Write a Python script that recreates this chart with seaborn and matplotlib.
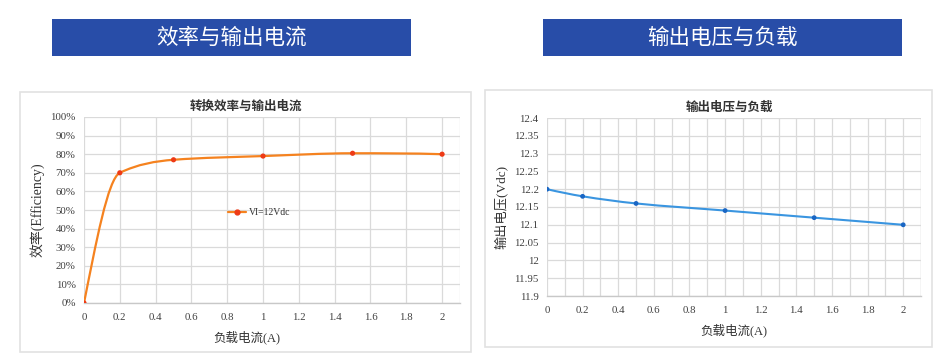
import numpy as np
import pandas as pd
import matplotlib
matplotlib.use("Agg")
import matplotlib.pyplot as plt
import seaborn as sns
from matplotlib.path import Path
from matplotlib.patches import PathPatch, Rectangle
from matplotlib.lines import Line2D
from matplotlib.ticker import MultipleLocator

# ---------------- data ----------------
load_current = [0, 0.2, 0.5, 1.0, 1.5, 2.0]
efficiency = [0, 70, 77, 79, 80.5, 80]
voltage = [12.2, 12.18, 12.16, 12.14, 12.12, 12.10]

banner_titles = ["效率与输出电流", "输出电压与负载"]
chart_titles = ["转换效率与输出电流", "输出电压与负载"]
xlabel = "负载电流(A)"
ylabels = ["效率(Efficiency)", "输出电压(Vdc)"]
legend_label = "VI=12Vdc"
x_ticks = [0, 0.2, 0.4, 0.6, 0.8, 1, 1.2, 1.4, 1.6, 1.8, 2]
eff_ticks = list(range(0, 101, 10))
volt_ticks = [11.9, 11.95, 12.0, 12.05, 12.1, 12.15, 12.2, 12.25, 12.3, 12.35, 12.4]

sns.set_theme(style="white")
MIX = ["Liberation Serif", "Noto Sans CJK SC", "DejaVu Sans"]
CJK = ["Noto Sans CJK SC", "DejaVu Sans"]
plt.rcParams["font.family"] = MIX

W, H = 951, 363
fig = plt.figure(figsize=(W / 100, H / 100), dpi=100)
fig.patch.set_facecolor("white")


def frac_rect(x0, y0, x1, y1):
    return [x0 / W, 1 - y1 / H, (x1 - x0) / W, (y1 - y0) / H]


def smooth_path(xs, ys):
    """Monotone (PCHIP-style) cubic Bezier path through the data points."""
    x = np.asarray(xs, float)
    y = np.asarray(ys, float)
    n = len(x)
    h = np.diff(x)
    d = np.diff(y) / h
    m = np.zeros(n)
    for i in range(1, n - 1):
        if d[i - 1] * d[i] <= 0:
            m[i] = 0.0
        else:
            w1 = 2 * h[i] + h[i - 1]
            w2 = h[i] + 2 * h[i - 1]
            m[i] = (w1 + w2) / (w1 / d[i - 1] + w2 / d[i])
    def end_slope(h0, h1, d0, d1):
        s = ((2 * h0 + h1) * d0 - h0 * d1) / (h0 + h1)
        if np.sign(s) != np.sign(d0):
            s = 0.0
        elif np.sign(d0) != np.sign(d1) and abs(s) > abs(3 * d0):
            s = 3 * d0
        return s
    m[0] = end_slope(h[0], h[1], d[0], d[1])
    m[-1] = end_slope(h[-1], h[-2], d[-1], d[-2])
    verts = [(x[0], y[0])]
    codes = [Path.MOVETO]
    for i in range(n - 1):
        verts += [(x[i] + h[i] / 3, y[i] + m[i] * h[i] / 3),
                  (x[i + 1] - h[i] / 3, y[i + 1] - m[i + 1] * h[i] / 3),
                  (x[i + 1], y[i + 1])]
        codes += [Path.CURVE4] * 3
    return Path(verts, codes)


# banners
for (x0, x1), txt in zip([(52, 411), (543, 902)], banner_titles):
    fig.patches.append(Rectangle((x0 / W, 1 - 56 / H), (x1 - x0) / W, 37 / H,
                                 transform=fig.transFigure, facecolor="#284DA8",
                                 edgecolor="none", zorder=-2))
    fig.text((x0 + x1) / 2 / W, 1 - 37.5 / H, txt, color="white", fontsize=15.5,
             ha="center", va="center", family=CJK)

# panel boxes
for (x0, y0, x1, y1) in [(20, 92, 471, 352), (485, 90, 932, 347)]:
    fig.patches.append(Rectangle((x0 / W, 1 - y1 / H), (x1 - x0) / W, (y1 - y0) / H,
                                 transform=fig.transFigure, facecolor="white",
                                 edgecolor="#E2E2E2", linewidth=1.2, zorder=-2))

grid_c = "#DADADA"
tick_c = "#404040"

# ---------------- left chart ----------------
ax1 = fig.add_axes(frac_rect(84, 117, 460, 303))
df1 = pd.DataFrame({"I": load_current, "eff": efficiency})
ax1.add_patch(PathPatch(smooth_path(df1["I"], df1["eff"]), facecolor="none",
                        edgecolor="#F5821F", linewidth=1.6, zorder=3))
sns.scatterplot(data=df1, x="I", y="eff", ax=ax1, color="#EE3A16", s=14,
                edgecolor="none", zorder=4, legend=False)
ax1.set_xlim(0, 2.1)
ax1.set_ylim(0, 100)
ax1.set_xticks(x_ticks)
ax1.set_xticklabels([f"{t:g}" for t in x_ticks])
ax1.set_yticks(eff_ticks)
ax1.set_yticklabels([f"{t}%" for t in eff_ticks])
ax1.grid(True, color=grid_c, linewidth=0.9)
ax1.set_title(chart_titles[0], fontsize=9, fontweight="bold", color="#333333",
              pad=5, family=CJK, x=0.432)
ax1.set_xlabel(xlabel, fontsize=9, color="#333333", labelpad=6)
ax1.xaxis.label.set_x(0.432)
ax1.set_ylabel(ylabels[0], fontsize=10, color="#333333", labelpad=4)
handle = Line2D([], [], color="#F5821F", linewidth=1.6, marker="o",
                markerfacecolor="#EE3A16", markeredgecolor="#EE3A16", markersize=3.5)
ax1.legend([handle], [legend_label], loc="center left", bbox_to_anchor=(0.36, 0.485),
           frameon=False, fontsize=7, handlelength=1.8, handletextpad=0.3,
           labelcolor="#333333")

# ---------------- right chart ----------------
ax2 = fig.add_axes(frac_rect(547, 118, 921, 296))
df2 = pd.DataFrame({"I": load_current, "V": voltage})
ax2.add_patch(PathPatch(smooth_path(df2["I"], df2["V"]), facecolor="none",
                        edgecolor="#3A95E0", linewidth=1.5, zorder=3))
sns.scatterplot(data=df2, x="I", y="V", ax=ax2, color="#1A66C4", s=12,
                edgecolor="none", zorder=4, legend=False)
ax2.set_xlim(0, 2.1)
ax2.set_ylim(11.9, 12.4)
ax2.set_xticks(x_ticks)
ax2.set_xticklabels([f"{t:g}" for t in x_ticks])
ax2.xaxis.set_minor_locator(MultipleLocator(0.1))
ax2.set_yticks(volt_ticks)
ax2.set_yticklabels([f"{t:g}" for t in volt_ticks])
ax2.grid(True, which="both", color=grid_c, linewidth=0.9)
ax2.set_title(chart_titles[1], fontsize=9, fontweight="bold", color="#333333",
              pad=5, family=CJK, x=0.487)
ax2.set_xlabel(xlabel, fontsize=9, color="#333333", labelpad=6)
ax2.set_ylabel(ylabels[1], fontsize=9.5, color="#333333", labelpad=5)

for ax in (ax1, ax2):
    ax.set_zorder(1)
    for s in ("top", "left", "right"):
        ax.spines[s].set_visible(False)
    ax.spines["bottom"].set_color("#C8C8C8")
    ax.spines["bottom"].set_linewidth(1.0)
    ax.tick_params(axis="both", which="both", length=0, labelsize=7.8,
                   labelcolor=tick_c)
    ax.tick_params(axis="x", pad=7)
    ax.tick_params(axis="y", pad=6)
    ax.set_facecolor("white")
    ax.set_axisbelow(True)
    ax.axvline(2.1, color=grid_c, linewidth=0.9, zorder=0)

fig.savefig("out.png", dpi=100, facecolor="white")
